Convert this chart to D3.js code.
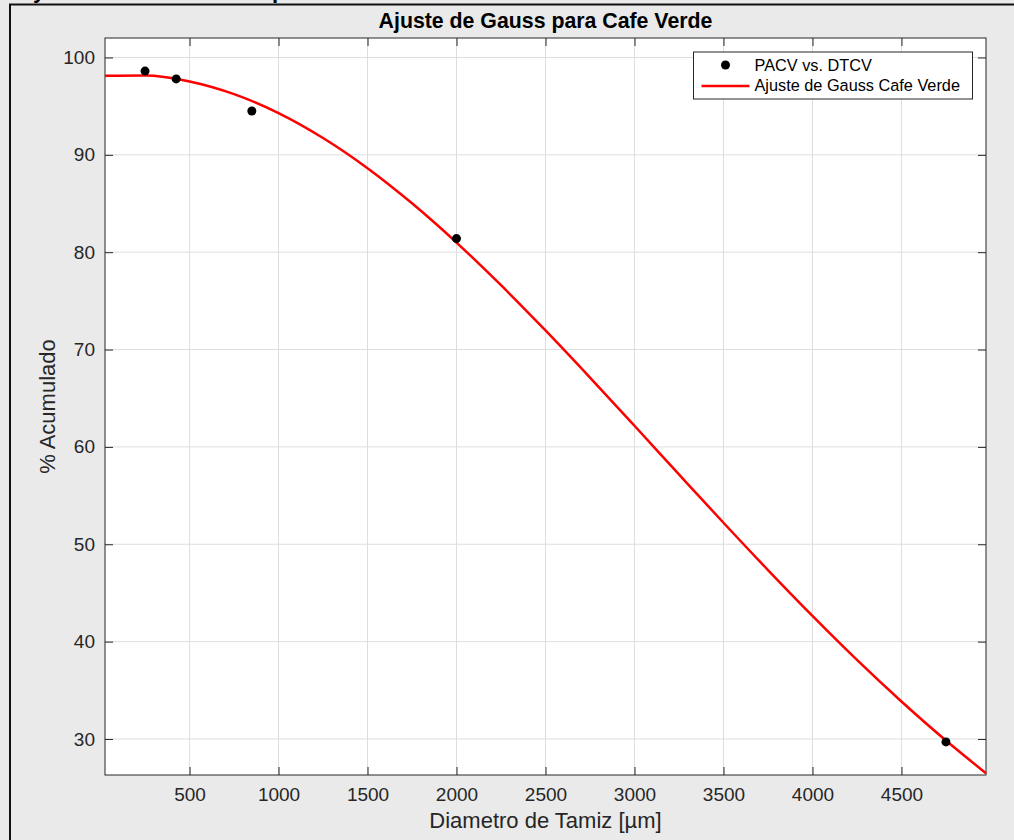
<!DOCTYPE html>
<html>
<head>
<meta charset="utf-8">
<script src="https://cdn.jsdelivr.net/npm/d3@7"></script>
<style>
  body { margin: 0; background: #fff; }
  svg { display: block; font-family: "Liberation Sans", Arial, Helvetica, sans-serif; }
</style>
</head>
<body>
<svg id="chart" width="1014" height="840"></svg>
<script>
// measured points
const diam = [250, 425, 850, 2000, 4750];
const acum = [98.6, 97.8, 94.5, 81.4, 29.7];

// fitted curve
const fitX = [25, 250, 500, 750, 1000, 1250, 1500, 1750, 2000, 2250, 2500, 2750,
    3000, 3250, 3500, 3750, 4000, 4250, 4500, 4750, 4975];
const fitY = [98.11, 98.14, 97.53, 96.23, 94.29, 91.73, 88.63, 85.02, 80.99, 76.61, 71.96, 67.12,
    62.17, 57.17, 52.21, 47.35, 42.64, 38.12, 33.85, 29.84, 26.48];

const xTicks = [500, 1000, 1500, 2000, 2500, 3000, 3500, 4000, 4500];
const yTicks = [30, 40, 50, 60, 70, 80, 90, 100];

const margin = {top: 38, right: 28, bottom: 65, left: 105},
    W = 1014, H = 840,
    width = W - margin.left - margin.right,
    height = H - margin.top - margin.bottom;

const svg = d3.select("#chart");

// figure background + border
svg.append("rect").attr("width", W).attr("height", H).attr("fill", "#eaeaea");
svg.append("rect")
    .attr("x", 10).attr("y", 4.5)
    .attr("width", W + 20).attr("height", H + 20)
    .attr("fill", "none").attr("stroke", "#111").attr("stroke-width", 2);

// cropped text above the figure (only the descenders show in the original)
svg.append("text").attr("x", 33).attr("y", -2).attr("font-size", 22).attr("font-weight", "bold").text("y");
svg.append("text").attr("x", 272).attr("y", -2).attr("font-size", 22).attr("font-weight", "bold").text("p");

const x = d3.scaleLinear().domain([25, 4975]).range([0, width]);
const y = d3.scaleLinear().domain([26.3, 102]).range([height, 0]);

const g = svg.append("g").attr("transform", `translate(${margin.left},${margin.top})`);

g.append("rect").attr("width", width).attr("height", height).attr("fill", "#fff");

// grid
g.append("g").selectAll("line").data(xTicks).join("line")
    .attr("x1", d => x(d)).attr("x2", d => x(d))
    .attr("y1", 0).attr("y2", height)
    .attr("stroke", "#dedede").attr("stroke-width", 1);
g.append("g").selectAll("line").data(yTicks).join("line")
    .attr("y1", d => y(d)).attr("y2", d => y(d))
    .attr("x1", 0).attr("x2", width)
    .attr("stroke", "#dedede").attr("stroke-width", 1);

// axes (ticks inward, box on)
const axisColor = "#262626";
const styleAxis = sel => {
    sel.select(".domain").remove();
    sel.selectAll(".tick line").attr("stroke", axisColor);
    sel.selectAll(".tick text").attr("fill", "#262626").attr("font-size", 19)
        .attr("font-family", "Liberation Sans, Arial, sans-serif");
};
const fmt = d3.format("d");

g.append("g").attr("transform", `translate(0,${height})`)
    .call(d3.axisBottom(x).tickValues(xTicks).tickFormat(fmt).tickSizeInner(-8).tickSizeOuter(0).tickPadding(13))
    .call(styleAxis);
g.append("g")
    .call(d3.axisTop(x).tickValues(xTicks).tickSizeInner(-8).tickSizeOuter(0).tickFormat(""))
    .call(styleAxis);
g.append("g")
    .call(d3.axisLeft(y).tickValues(yTicks).tickFormat(fmt).tickSizeInner(-8).tickSizeOuter(0).tickPadding(10))
    .call(styleAxis);
g.append("g").attr("transform", `translate(${width},0)`)
    .call(d3.axisRight(y).tickValues(yTicks).tickSizeInner(-8).tickSizeOuter(0).tickFormat(""))
    .call(styleAxis);

g.append("rect").attr("width", width).attr("height", height)
    .attr("fill", "none").attr("stroke", axisColor).attr("stroke-width", 1);

// fit curve
const line = d3.line().x((d, i) => x(fitX[i])).y(d => y(d)).curve(d3.curveMonotoneX);
g.append("path").datum(fitY)
    .attr("d", line)
    .attr("fill", "none").attr("stroke", "#ff0000").attr("stroke-width", 2.5);

// points
g.append("g").selectAll("circle").data(acum).join("circle")
    .attr("cx", (d, i) => x(diam[i]))
    .attr("cy", d => y(d))
    .attr("r", 4.5)
    .attr("fill", "#000");

// title and labels
svg.append("text")
    .attr("x", margin.left + width / 2).attr("y", 27.5)
    .attr("text-anchor", "middle").attr("font-size", 21.3).attr("font-weight", "bold")
    .text("Ajuste de Gauss para Cafe Verde");

svg.append("text")
    .attr("x", margin.left + width / 2).attr("y", 828)
    .attr("text-anchor", "middle").attr("font-size", 22).attr("fill", "#262626")
    .text("Diametro de Tamiz [µm]");

svg.append("text")
    .attr("transform", `translate(55,${margin.top + height / 2}) rotate(-90)`)
    .attr("text-anchor", "middle").attr("font-size", 22).attr("fill", "#262626")
    .text("% Acumulado");

// legend
const lg = svg.append("g").attr("transform", "translate(693.5,52)");
lg.append("rect").attr("width", 279).attr("height", 47)
    .attr("fill", "#fff").attr("stroke", axisColor).attr("stroke-width", 1);
lg.append("circle").attr("cx", 32).attr("cy", 13).attr("r", 4.5).attr("fill", "#000");
lg.append("line").attr("x1", 8).attr("x2", 56).attr("y1", 34).attr("y2", 34)
    .attr("stroke", "#ff0000").attr("stroke-width", 2.5);
lg.append("text").attr("x", 61).attr("y", 18.7).attr("font-size", 16.3).attr("fill", "#000")
    .text("PACV vs. DTCV");
lg.append("text").attr("x", 61).attr("y", 39).attr("font-size", 16.3).attr("fill", "#000")
    .text("Ajuste de Gauss Cafe Verde");
</script>
</body>
</html>
